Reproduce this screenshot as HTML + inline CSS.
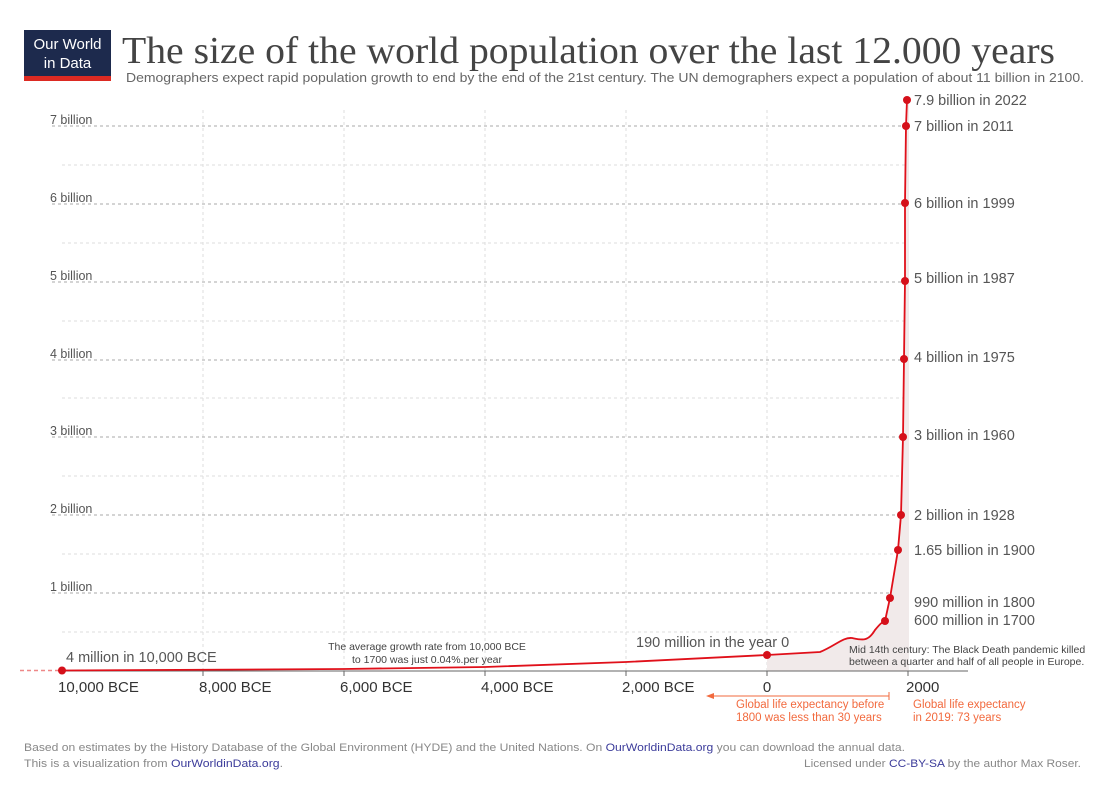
<!DOCTYPE html>
<html><head><meta charset="utf-8"><style>
body{margin:0;background:#fff;width:1110px;height:794px;overflow:hidden;font-family:"Liberation Sans",sans-serif}
</style></head><body>
<svg width="1110" height="794" viewBox="0 0 1110 794" xmlns="http://www.w3.org/2000/svg" font-family="Liberation Sans, sans-serif">
<rect x="24" y="30" width="87" height="46" fill="#1d2a4d"/>
<rect x="24" y="76" width="87" height="5" fill="#dc2a22"/>
<text x="67.5" y="49" fill="#fff" font-size="15" text-anchor="middle">Our World</text>
<text x="67.5" y="68" fill="#fff" font-size="15" text-anchor="middle">in Data</text>
<text x="122" y="63" fill="#444" font-size="38" font-family="Liberation Serif, serif" textLength="933" lengthAdjust="spacingAndGlyphs">The size of the world population over the last 12.000 years</text>
<text x="126" y="82" fill="#666" font-size="12.6" textLength="958" lengthAdjust="spacingAndGlyphs">Demographers expect rapid population growth to end by the end of the 21st century. The UN demographers expect a population of about 11 billion in 2100.</text>
<g stroke="#ddd" stroke-dasharray="3,3" stroke-width="1">
<line x1="203" y1="110" x2="203" y2="671"/><line x1="344" y1="110" x2="344" y2="671"/><line x1="485" y1="110" x2="485" y2="671"/><line x1="626" y1="110" x2="626" y2="671"/><line x1="767" y1="110" x2="767" y2="671"/><line x1="908" y1="110" x2="908" y2="671"/>
<line x1="62" y1="165" x2="905" y2="165"/><line x1="62" y1="243" x2="905" y2="243"/><line x1="62" y1="321" x2="905" y2="321"/><line x1="62" y1="398" x2="905" y2="398"/><line x1="62" y1="476" x2="905" y2="476"/><line x1="62" y1="554" x2="905" y2="554"/><line x1="62" y1="632" x2="905" y2="632"/>
</g>
<g stroke="#aaa" stroke-dasharray="3,3" stroke-width="1">
<line x1="52" y1="126" x2="905" y2="126"/><line x1="52" y1="204" x2="905" y2="204"/><line x1="52" y1="282" x2="905" y2="282"/><line x1="52" y1="360" x2="905" y2="360"/><line x1="52" y1="437" x2="905" y2="437"/><line x1="52" y1="515" x2="905" y2="515"/><line x1="52" y1="593" x2="905" y2="593"/>
</g>
<g fill="#555" font-size="12.5">
<text x="50" y="124">7 billion</text><text x="50" y="202">6 billion</text><text x="50" y="280">5 billion</text><text x="50" y="358">4 billion</text><text x="50" y="435">3 billion</text><text x="50" y="513">2 billion</text><text x="50" y="591">1 billion</text>
</g>
<path d="M767,655 L820,652 C835,646 843,637 852,638 C862,640 868,642 875,630 C880,624 882,622 885,621 L890,598 L898,550 L901,515 L903,437 L904,359 L905,281 L905,203 L906,126 L907,100 L909,100 L909,671 L767,671 Z" fill="#f1eaea"/>
<line x1="62" y1="671" x2="968" y2="671" stroke="#666" stroke-width="1"/>
<g stroke="#666"><line x1="203" y1="671" x2="203" y2="676"/><line x1="344" y1="671" x2="344" y2="676"/><line x1="485" y1="671" x2="485" y2="676"/><line x1="626" y1="671" x2="626" y2="676"/><line x1="767" y1="671" x2="767" y2="676"/><line x1="908" y1="671" x2="908" y2="676"/></g>
<line x1="20" y1="670.5" x2="62" y2="670.5" stroke="#e88" stroke-width="1.5" stroke-dasharray="4,3"/>
<path d="M62,670.5 L344,669 L485,667 L626,662 L767,655 L820,652 C835,646 843,637 852,638 C862,640 868,642 875,630 C880,624 882,622 885,621 L890,598 L898,550 L901,515 L903,437 L904,359 L905,281 L905,203 L906,126 L907,100" fill="none" stroke="#e0101a" stroke-width="1.8"/>
<g fill="#d5101a">
<circle cx="62" cy="670.5" r="4"/><circle cx="767" cy="655" r="4"/><circle cx="885" cy="621" r="4"/><circle cx="890" cy="598" r="4"/><circle cx="898" cy="550" r="4"/><circle cx="901" cy="515" r="4"/><circle cx="903" cy="437" r="4"/><circle cx="904" cy="359" r="4"/><circle cx="905" cy="281" r="4"/><circle cx="905" cy="203" r="4"/><circle cx="906" cy="126" r="4"/><circle cx="907" cy="100" r="4"/>
</g>
<g fill="#555" font-size="14.5">
<text x="914" y="105">7.9 billion in 2022</text><text x="914" y="131">7 billion in 2011</text><text x="914" y="208">6 billion in 1999</text><text x="914" y="283">5 billion in 1987</text><text x="914" y="362">4 billion in 1975</text><text x="914" y="440">3 billion in 1960</text><text x="914" y="520">2 billion in 1928</text><text x="914" y="555">1.65 billion in 1900</text><text x="914" y="607">990 million in 1800</text><text x="914" y="625">600 million in 1700</text>
<text x="636" y="647">190 million in the year 0</text><text x="66" y="662">4 million in 10,000 BCE</text>
</g>
<g fill="#444" font-size="10.5">
<text x="427" y="650" text-anchor="middle">The average growth rate from 10,000 BCE</text>
<text x="427" y="663" text-anchor="middle">to 1700 was just  0.04%.per year</text>
<text x="849" y="653">Mid 14th century: The Black Death pandemic killed</text>
<text x="849" y="665">between a quarter and half of all people in Europe.</text>
</g>
<g fill="#333" font-size="15">
<text x="58" y="692">10,000 BCE</text><text x="199" y="692">8,000 BCE</text><text x="340" y="692">6,000 BCE</text><text x="481" y="692">4,000 BCE</text><text x="622" y="692">2,000 BCE</text><text x="767" y="692" text-anchor="middle">0</text><text x="906" y="692">2000</text>
</g>
<line x1="712" y1="696" x2="889" y2="696" stroke="#f26a3e" stroke-width="1"/>
<line x1="889" y1="692" x2="889" y2="700" stroke="#f26a3e"/>
<path d="M706,696 L714,693 L714,699 Z" fill="#f26a3e"/>
<g fill="#f26a3e" font-size="11.5">
<text x="736" y="708">Global life expectancy before</text><text x="736" y="721">1800 was less than 30 years</text>
<text x="913" y="708">Global life expectancy</text><text x="913" y="721">in 2019: 73 years</text>
</g>
<g fill="#888" font-size="11.3">
<text x="24" y="751" textLength="881" lengthAdjust="spacingAndGlyphs">Based on estimates by the History Database of the Global Environment (HYDE) and the United Nations. On <tspan fill="#3b3b9a">OurWorldinData.org</tspan> you can download the annual data.</text>
<text x="24" y="767" textLength="259" lengthAdjust="spacingAndGlyphs">This is a visualization from <tspan fill="#3b3b9a">OurWorldinData.org</tspan>.</text>
<text x="804" y="767" textLength="277" lengthAdjust="spacingAndGlyphs">Licensed under <tspan fill="#3b3b9a">CC-BY-SA</tspan> by the author Max Roser.</text>
</g>
</svg>
</body></html>
